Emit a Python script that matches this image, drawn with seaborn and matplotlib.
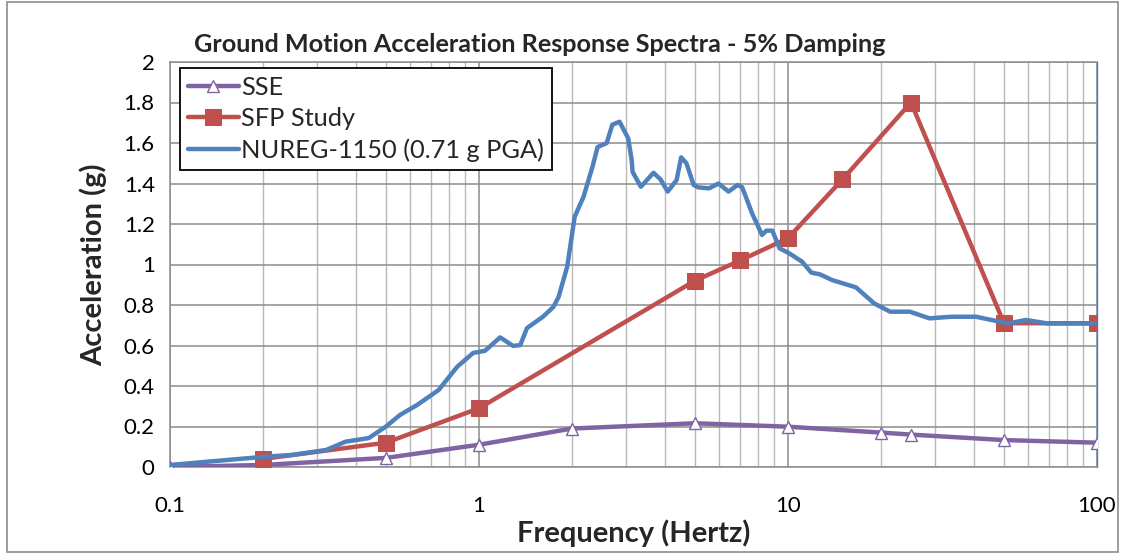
import numpy as np
import pandas as pd
import matplotlib
matplotlib.use("Agg")
import matplotlib.pyplot as plt
from matplotlib.patches import Rectangle
from matplotlib.ticker import FixedLocator, FixedFormatter, LogLocator, NullFormatter
import seaborn as sns

# ---- data ----
sse_freq = [0.1, 0.2, 0.5, 1, 2, 5, 10, 20, 25, 50, 100]
sse_acc = [0.0, 0.01, 0.045, 0.11, 0.19, 0.216, 0.199, 0.17, 0.16, 0.133, 0.12]

sfp_freq = [0.2, 0.5, 1, 5, 7, 10, 15, 25, 50, 100]
sfp_acc = [0.04, 0.12, 0.29, 0.92, 1.02, 1.13, 1.42, 1.80, 0.71, 0.71]

nureg_freq = [0.1, 0.2, 0.25, 0.32, 0.37, 0.44, 0.5, 0.555, 0.63, 0.74, 0.85, 0.957,
              1.046, 1.17, 1.29, 1.36, 1.43, 1.61, 1.74, 1.81, 1.93, 2.04, 2.18, 2.33,
              2.42, 2.59, 2.70, 2.85, 3.04, 3.12, 3.14, 3.34, 3.67, 3.87, 4.08, 4.36,
              4.51, 4.69, 4.95, 5.12, 5.55, 5.96, 6.42, 6.87, 7.11, 7.65, 8.24, 8.51,
              8.90, 9.39, 10.1, 11.1, 11.9, 12.7, 13.9, 16.6, 19.0, 21.4, 24.8, 28.7,
              33.7, 40.6, 51.5, 58.9, 69.2, 100]
nureg_acc = [0.01, 0.05, 0.06, 0.084, 0.125, 0.143, 0.2, 0.257, 0.306, 0.38, 0.495, 0.563,
             0.574, 0.64, 0.598, 0.602, 0.686, 0.742, 0.79, 0.84, 0.99, 1.236, 1.335, 1.483,
             1.58, 1.60, 1.69, 1.705, 1.623, 1.516, 1.458, 1.384, 1.453, 1.42, 1.36, 1.417,
             1.529, 1.50, 1.393, 1.381, 1.376, 1.40, 1.36, 1.393, 1.381, 1.253, 1.146, 1.167,
             1.167, 1.08, 1.055, 1.014, 0.96, 0.951, 0.923, 0.887, 0.808, 0.767, 0.767, 0.734,
             0.742, 0.742, 0.709, 0.726, 0.709, 0.709]

series_names = ["SSE", "SFP Study", "NUREG-1150 (0.71 g PGA)"]
y_ticks = [0, 0.2, 0.4, 0.6, 0.8, 1, 1.2, 1.4, 1.6, 1.8, 2]
y_tick_labels = ["0", "0.2", "0.4", "0.6", "0.8", "1", "1.2", "1.4", "1.6", "1.8", "2"]
x_ticks = [0.1, 1, 10, 100]
x_tick_labels = ["0.1", "1", "10", "100"]

title = "Ground Motion Acceleration Response Spectra - 5% Damping"
xlabel = "Frequency (Hertz)"
ylabel = "Acceleration (g)"

# ---- style ----
sns.set_style("white")
plt.rcParams["font.family"] = ["Lato", "DejaVu Sans"]

purple = "#8064A2"
red = "#C0504D"
blue = "#4F81BD"

fig = plt.figure(figsize=(11.24, 5.54), dpi=100)
ax = fig.add_axes([170 / 1124, 1 - 467 / 554, (1097 - 170) / 1124, (467 - 62) / 554])

df_sse = pd.DataFrame({"f": sse_freq, "a": sse_acc})
df_sfp = pd.DataFrame({"f": sfp_freq, "a": sfp_acc})
df_nur = pd.DataFrame({"f": nureg_freq, "a": nureg_acc})

sns.lineplot(data=df_sse, x="f", y="a", ax=ax, color=purple, lw=3.2, marker="^",
             markersize=8, markerfacecolor="white", markeredgecolor=purple,
             markeredgewidth=1.0, label=series_names[0], estimator=None, zorder=3)
sns.lineplot(data=df_sfp, x="f", y="a", ax=ax, color=red, lw=3.2, marker="s",
             markersize=12, markerfacecolor=red, markeredgecolor=red,
             label=series_names[1], estimator=None, zorder=4)
sns.lineplot(data=df_nur, x="f", y="a", ax=ax, color=blue, lw=3.2,
             label=series_names[2], estimator=None, zorder=5)

ax.set_xscale("log")
ax.set_xlim(0.1, 100)
ax.set_ylim(0, 2)

ax.xaxis.set_major_locator(FixedLocator(x_ticks))
ax.xaxis.set_major_formatter(FixedFormatter(x_tick_labels))
ax.xaxis.set_minor_locator(LogLocator(base=10, subs=np.arange(2, 10)))
ax.xaxis.set_minor_formatter(NullFormatter())
ax.yaxis.set_major_locator(FixedLocator(y_ticks))
ax.yaxis.set_major_formatter(FixedFormatter(y_tick_labels))

ax.grid(True, which="major", axis="both", color="#8c8c8c", lw=1.1)
ax.grid(True, which="minor", axis="x", color="#b8b8b8", lw=1.0)
ax.set_axisbelow(True)

ax.tick_params(axis="both", which="both", length=0, labelsize=16, colors="black")
ax.tick_params(axis="x", pad=21)
ax.tick_params(axis="y", pad=11)

for s in ["left", "bottom", "top"]:
    ax.spines[s].set_color("#8c8c8c")
    ax.spines[s].set_linewidth(1.1)
ax.spines["right"].set_color(blue)
ax.spines["right"].set_linewidth(1.0)

ax.set_xlabel(xlabel, fontsize=21, fontweight="bold", labelpad=2)
ax.set_ylabel(ylabel, fontsize=21, fontweight="bold", labelpad=12)

leg = ax.legend(loc="upper left", bbox_to_anchor=(0.011, 0.985), fontsize=18.3,
                frameon=True, fancybox=False, framealpha=1, edgecolor="black",
                handlelength=2.0, handletextpad=0.1, borderpad=0.3, labelspacing=0.33,
                borderaxespad=0)
leg.get_frame().set_linewidth(1.3)
leg.set_zorder(10)

fig.text(0.48, 1 - 45 / 554, title, ha="center", va="center", fontsize=18.2,
         fontweight="bold")

fig.patches.append(Rectangle((0.006, 0.003), 0.989, 0.993, transform=fig.transFigure,
                             fill=False, edgecolor="#8c8c8c", lw=1.2))

fig.savefig("out.png", dpi=100)
